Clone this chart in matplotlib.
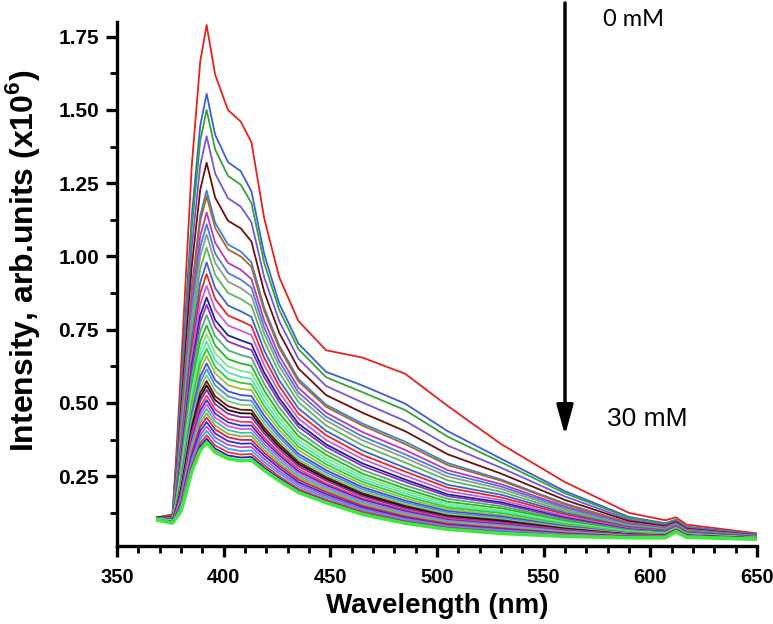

import matplotlib
matplotlib.use("Agg")
import matplotlib.pyplot as plt
import numpy as np
from matplotlib.ticker import MultipleLocator

plt.rcParams["font.family"] = ["Liberation Sans", "DejaVu Sans"]
plt.rcParams["mathtext.fontset"] = "custom"
plt.rcParams["mathtext.rm"] = "Liberation Sans"
plt.rcParams["mathtext.bf"] = "Liberation Sans:bold"

# wavelength grid (nm) at which each spectrum was read
wavelength = [369, 376, 378, 380, 385, 389, 392, 396, 402, 408, 413, 419, 426,
              435, 448, 465, 485, 505, 530, 560, 590, 607, 612, 617, 650]

# intensity (x1e6) of every spectrum at each wavelength, top curve (0 mM) first
i369 = [0.110, 0.110, 0.110, 0.110, 0.110, 0.105, 0.105, 0.105, 0.105, 0.105,
        0.105, 0.105, 0.105, 0.105, 0.105, 0.105, 0.105, 0.105, 0.105, 0.105,
        0.100, 0.100, 0.100, 0.100, 0.100, 0.100, 0.100, 0.100, 0.100, 0.100,
        0.100, 0.100, 0.100, 0.100, 0.100, 0.100, 0.100, 0.100, 0.100, 0.100]
i376 = [0.120, 0.115, 0.114, 0.112, 0.110, 0.108, 0.108, 0.107, 0.106, 0.105,
        0.104, 0.103, 0.102, 0.101, 0.100, 0.100, 0.099, 0.098, 0.098, 0.097,
        0.097, 0.096, 0.096, 0.095, 0.095, 0.094, 0.094, 0.094, 0.093, 0.093,
        0.093, 0.092, 0.092, 0.092, 0.091, 0.091, 0.091, 0.090, 0.090, 0.090]
i378 = [0.350, 0.310, 0.301, 0.286, 0.271, 0.255, 0.251, 0.242, 0.236, 0.230,
        0.222, 0.214, 0.207, 0.200, 0.193, 0.189, 0.183, 0.177, 0.172, 0.168,
        0.164, 0.160, 0.155, 0.152, 0.149, 0.145, 0.143, 0.140, 0.137, 0.134,
        0.132, 0.129, 0.127, 0.124, 0.122, 0.119, 0.117, 0.114, 0.112, 0.110]
i380 = [0.620, 0.560, 0.540, 0.510, 0.475, 0.440, 0.435, 0.414, 0.400, 0.387,
        0.371, 0.353, 0.338, 0.324, 0.310, 0.300, 0.288, 0.275, 0.265, 0.256,
        0.247, 0.238, 0.229, 0.221, 0.214, 0.207, 0.202, 0.196, 0.189, 0.184,
        0.178, 0.173, 0.167, 0.162, 0.157, 0.151, 0.146, 0.140, 0.136, 0.131]
i385 = [1.307, 1.135, 1.095, 1.029, 0.964, 0.894, 0.880, 0.840, 0.810, 0.785,
        0.752, 0.715, 0.686, 0.657, 0.628, 0.610, 0.584, 0.558, 0.537, 0.518,
        0.500, 0.482, 0.464, 0.449, 0.434, 0.420, 0.409, 0.398, 0.383, 0.372,
        0.361, 0.350, 0.339, 0.329, 0.318, 0.307, 0.296, 0.285, 0.276, 0.266]
i389 = [1.665, 1.446, 1.395, 1.311, 1.228, 1.139, 1.121, 1.070, 1.032, 1.000,
        0.958, 0.911, 0.874, 0.837, 0.800, 0.777, 0.744, 0.711, 0.684, 0.660,
        0.637, 0.614, 0.591, 0.572, 0.553, 0.535, 0.521, 0.507, 0.488, 0.474,
        0.460, 0.446, 0.432, 0.419, 0.405, 0.391, 0.377, 0.363, 0.352, 0.339]
i392 = [1.790, 1.555, 1.500, 1.410, 1.320, 1.225, 1.205, 1.150, 1.110, 1.075,
        1.030, 0.980, 0.940, 0.900, 0.860, 0.835, 0.800, 0.765, 0.735, 0.710,
        0.685, 0.660, 0.635, 0.615, 0.595, 0.575, 0.560, 0.545, 0.525, 0.510,
        0.495, 0.480, 0.465, 0.450, 0.435, 0.420, 0.405, 0.390, 0.378, 0.365]
i396 = [1.620, 1.415, 1.365, 1.283, 1.201, 1.115, 1.097, 1.047, 1.010, 0.978,
        0.937, 0.892, 0.855, 0.819, 0.783, 0.760, 0.728, 0.696, 0.669, 0.646,
        0.623, 0.601, 0.578, 0.560, 0.541, 0.523, 0.510, 0.496, 0.478, 0.464,
        0.450, 0.437, 0.423, 0.410, 0.396, 0.382, 0.369, 0.355, 0.344, 0.332]
i402 = [1.500, 1.322, 1.275, 1.199, 1.122, 1.041, 1.024, 0.978, 0.944, 0.914,
        0.876, 0.833, 0.799, 0.765, 0.731, 0.710, 0.680, 0.650, 0.625, 0.604,
        0.582, 0.561, 0.540, 0.523, 0.506, 0.489, 0.476, 0.463, 0.446, 0.434,
        0.421, 0.408, 0.395, 0.383, 0.370, 0.357, 0.344, 0.332, 0.321, 0.310]
i408 = [1.460, 1.291, 1.245, 1.170, 1.096, 1.017, 1.000, 0.955, 0.921, 0.892,
        0.855, 0.813, 0.780, 0.747, 0.714, 0.693, 0.664, 0.635, 0.610, 0.589,
        0.569, 0.548, 0.527, 0.510, 0.494, 0.477, 0.465, 0.452, 0.436, 0.423,
        0.411, 0.398, 0.386, 0.374, 0.361, 0.349, 0.336, 0.324, 0.314, 0.303]
i413 = [1.390, 1.222, 1.182, 1.117, 1.051, 0.980, 0.965, 0.923, 0.894, 0.866,
        0.832, 0.794, 0.763, 0.732, 0.701, 0.681, 0.654, 0.627, 0.603, 0.583,
        0.564, 0.544, 0.524, 0.508, 0.492, 0.476, 0.464, 0.451, 0.435, 0.423,
        0.411, 0.399, 0.387, 0.374, 0.362, 0.350, 0.338, 0.326, 0.316, 0.305]
i419 = [1.130, 1.008, 0.978, 0.929, 0.879, 0.825, 0.814, 0.781, 0.757, 0.736,
        0.710, 0.679, 0.654, 0.629, 0.604, 0.588, 0.565, 0.542, 0.523, 0.506,
        0.490, 0.473, 0.457, 0.443, 0.430, 0.416, 0.406, 0.396, 0.382, 0.372,
        0.361, 0.351, 0.340, 0.330, 0.320, 0.309, 0.298, 0.288, 0.279, 0.270]
i426 = [0.930, 0.840, 0.818, 0.780, 0.740, 0.697, 0.688, 0.662, 0.643, 0.626,
        0.604, 0.578, 0.558, 0.537, 0.517, 0.504, 0.485, 0.466, 0.450, 0.436,
        0.422, 0.408, 0.394, 0.383, 0.371, 0.360, 0.351, 0.342, 0.331, 0.322,
        0.313, 0.304, 0.295, 0.287, 0.278, 0.268, 0.260, 0.250, 0.243, 0.235]
i435 = [0.780, 0.703, 0.684, 0.651, 0.618, 0.582, 0.574, 0.552, 0.536, 0.521,
        0.503, 0.482, 0.464, 0.447, 0.430, 0.419, 0.403, 0.387, 0.374, 0.362,
        0.351, 0.339, 0.327, 0.318, 0.308, 0.299, 0.292, 0.284, 0.275, 0.267,
        0.260, 0.252, 0.245, 0.238, 0.230, 0.223, 0.215, 0.207, 0.201, 0.195]
i448 = [0.680, 0.606, 0.588, 0.558, 0.527, 0.494, 0.487, 0.467, 0.453, 0.440,
        0.423, 0.405, 0.390, 0.374, 0.359, 0.350, 0.336, 0.323, 0.311, 0.301,
        0.291, 0.281, 0.271, 0.263, 0.255, 0.247, 0.241, 0.235, 0.226, 0.220,
        0.214, 0.208, 0.202, 0.196, 0.189, 0.183, 0.177, 0.170, 0.165, 0.160]
i465 = [0.655, 0.560, 0.537, 0.502, 0.467, 0.430, 0.423, 0.401, 0.386, 0.373,
        0.356, 0.338, 0.323, 0.309, 0.294, 0.285, 0.272, 0.259, 0.249, 0.240,
        0.231, 0.222, 0.213, 0.206, 0.199, 0.192, 0.187, 0.182, 0.175, 0.170,
        0.164, 0.159, 0.154, 0.149, 0.144, 0.139, 0.134, 0.129, 0.124, 0.120]
i485 = [0.600, 0.498, 0.476, 0.439, 0.404, 0.368, 0.360, 0.340, 0.325, 0.313,
        0.297, 0.279, 0.266, 0.252, 0.239, 0.231, 0.219, 0.208, 0.199, 0.191,
        0.183, 0.175, 0.167, 0.161, 0.155, 0.149, 0.145, 0.141, 0.135, 0.131,
        0.126, 0.122, 0.118, 0.113, 0.109, 0.105, 0.101, 0.097, 0.094, 0.090]
i505 = [0.490, 0.404, 0.385, 0.355, 0.325, 0.295, 0.288, 0.271, 0.260, 0.249,
        0.236, 0.221, 0.211, 0.199, 0.188, 0.182, 0.173, 0.163, 0.156, 0.149,
        0.143, 0.137, 0.131, 0.126, 0.121, 0.116, 0.113, 0.110, 0.105, 0.101,
        0.098, 0.095, 0.091, 0.088, 0.084, 0.081, 0.078, 0.075, 0.072, 0.069]
i530 = [0.360, 0.310, 0.298, 0.279, 0.259, 0.239, 0.235, 0.223, 0.215, 0.207,
        0.197, 0.187, 0.178, 0.169, 0.161, 0.156, 0.148, 0.141, 0.134, 0.129,
        0.124, 0.118, 0.113, 0.108, 0.104, 0.100, 0.097, 0.093, 0.089, 0.086,
        0.083, 0.080, 0.076, 0.073, 0.070, 0.067, 0.064, 0.060, 0.058, 0.055]
i560 = [0.230, 0.199, 0.192, 0.181, 0.169, 0.157, 0.154, 0.147, 0.142, 0.137,
        0.131, 0.125, 0.120, 0.114, 0.109, 0.106, 0.101, 0.097, 0.093, 0.090,
        0.087, 0.083, 0.080, 0.077, 0.075, 0.072, 0.070, 0.068, 0.066, 0.064,
        0.062, 0.060, 0.058, 0.056, 0.054, 0.052, 0.050, 0.048, 0.047, 0.045]
i590 = [0.125, 0.111, 0.108, 0.102, 0.097, 0.091, 0.090, 0.087, 0.084, 0.082,
        0.080, 0.077, 0.074, 0.072, 0.069, 0.068, 0.066, 0.064, 0.062, 0.061,
        0.059, 0.058, 0.056, 0.055, 0.054, 0.052, 0.052, 0.051, 0.050, 0.049,
        0.048, 0.047, 0.046, 0.045, 0.044, 0.043, 0.042, 0.042, 0.041, 0.040]
i607 = [0.100, 0.090, 0.088, 0.084, 0.080, 0.076, 0.075, 0.073, 0.071, 0.070,
        0.068, 0.066, 0.064, 0.063, 0.061, 0.060, 0.058, 0.057, 0.056, 0.055,
        0.054, 0.052, 0.051, 0.051, 0.050, 0.049, 0.048, 0.048, 0.047, 0.046,
        0.045, 0.045, 0.044, 0.044, 0.043, 0.042, 0.042, 0.041, 0.041, 0.040]
i612 = [0.110, 0.102, 0.100, 0.097, 0.094, 0.090, 0.089, 0.088, 0.086, 0.085,
        0.083, 0.082, 0.080, 0.079, 0.077, 0.077, 0.075, 0.074, 0.073, 0.072,
        0.071, 0.070, 0.069, 0.069, 0.068, 0.067, 0.067, 0.066, 0.066, 0.065,
        0.065, 0.064, 0.064, 0.063, 0.062, 0.062, 0.061, 0.061, 0.060, 0.060]
i617 = [0.085, 0.078, 0.076, 0.074, 0.071, 0.068, 0.067, 0.066, 0.064, 0.063,
        0.062, 0.061, 0.059, 0.058, 0.057, 0.056, 0.055, 0.054, 0.053, 0.052,
        0.052, 0.051, 0.050, 0.050, 0.049, 0.048, 0.048, 0.047, 0.047, 0.046,
        0.046, 0.045, 0.045, 0.045, 0.044, 0.044, 0.043, 0.043, 0.042, 0.042]
i650 = [0.055, 0.052, 0.051, 0.050, 0.048, 0.047, 0.047, 0.046, 0.045, 0.045,
        0.044, 0.044, 0.043, 0.043, 0.042, 0.042, 0.041, 0.041, 0.040, 0.040,
        0.039, 0.039, 0.039, 0.038, 0.038, 0.038, 0.038, 0.038, 0.037, 0.037,
        0.037, 0.037, 0.036, 0.036, 0.036, 0.036, 0.036, 0.035, 0.035, 0.035]

# line colours, in the same order as the spectra
colors = ["#e8211d", "#3d5fd9", "#35a335", "#7657dc", "#6e0f0f", "#3f80d8",
          "#a8692a", "#b43ac6", "#4b7fd6", "#8f9b8f", "#5fb55f", "#3d62cf",
          "#e02a2a", "#c35fe0", "#20209e", "#9334b8", "#4caf73", "#22bb22",
          "#7de87d", "#57e0c0", "#2fcf2f", "#9cbf3c", "#3656d6", "#5b86e0",
          "#6fd36f", "#7a1010", "#111111", "#8a2aa8", "#ff3355", "#2c3fc8",
          "#e84ee8", "#2fc4c4", "#a8a82a", "#d02060", "#3030d0", "#c050c0",
          "#3aa0ff", "#ee3333", "#2222bb", "#3ee83e"]

spectra = np.column_stack([i369, i376, i378, i380, i385, i389, i392, i396,
                           i402, i408, i413, i419, i426, i435, i448, i465,
                           i485, i505, i530, i560, i590, i607, i612, i617,
                           i650])

fig = plt.figure(figsize=(7.73, 6.24), dpi=100)
ax = fig.add_axes([0.1514, 0.125, 0.8279, 0.8397])

n = len(spectra)
for k, (row, c) in enumerate(zip(spectra, colors)):
    lw = 2.6 if k == n - 1 else 1.3
    ax.plot(wavelength, row, color=c, lw=lw, solid_joinstyle="round")

ax.set_xlim(350, 650)
ax.set_ylim(0.012, 1.80)

for side in ("top", "right"):
    ax.spines[side].set_visible(False)
for side in ("left", "bottom"):
    ax.spines[side].set_linewidth(2.4)

ax.xaxis.set_major_locator(MultipleLocator(50))
ax.xaxis.set_minor_locator(MultipleLocator(10))
ax.yaxis.set_major_locator(MultipleLocator(0.25))
ax.yaxis.set_minor_locator(MultipleLocator(0.125))
ax.set_yticks([0.25, 0.50, 0.75, 1.00, 1.25, 1.50, 1.75])
ax.set_yticklabels(["0.25", "0.50", "0.75", "1.00", "1.25", "1.50", "1.75"])
ax.tick_params(which="major", direction="out", length=8, width=2.4,
               labelsize=15, pad=5)
ax.tick_params(axis="x", which="major", labelsize=14.5, pad=8)
ax.tick_params(which="minor", direction="out", length=5, width=2.0)
for lab in ax.get_xticklabels() + ax.get_yticklabels():
    lab.set_fontweight("bold")

ax.set_xlabel("Wavelength (nm)", fontsize=20, fontweight="bold", labelpad=4)
ax.set_ylabel(r"Intensity, arb.units (x10$^{\mathbf{6}}$)", fontsize=23,
              fontweight="bold")
ax.yaxis.set_label_coords(-0.117, 0.545)

# concentration arrow
ax.annotate("", xy=(560, 0.39), xytext=(560, 1.865),
            arrowprops=dict(arrowstyle="-|>,head_width=0.25,head_length=0.9",
                            lw=2.5, color="black", mutation_scale=20,
                            shrinkA=0, shrinkB=0),
            annotation_clip=False)
ax.text(578, 1.81, "0 mM", fontsize=17, va="center", clip_on=False,
        family=["Lato", "DejaVu Sans"])
ax.text(579.5, 0.445, "30 mM", fontsize=19, va="center",
        family=["Liberation Sans", "DejaVu Sans"])

fig.savefig("out.png", dpi=100)
